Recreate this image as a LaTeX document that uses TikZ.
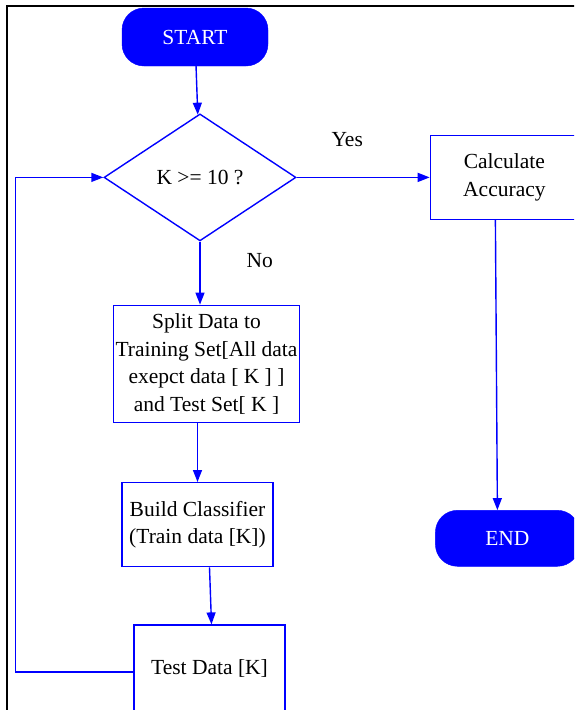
\documentclass[tikz,border=0pt]{standalone}
\usepackage{fontspec}
\setmainfont{Liberation Serif}
\usetikzlibrary{positioning}
\usetikzlibrary{arrows.meta}
\usetikzlibrary{shapes.geometric}

\begin{document}
\begin{tikzpicture}[
        x=1pt, y=-1pt,
        font=\fontsize{21.5}{27.5}\selectfont,
        terminal/.style={draw=blue, fill=blue, text=white, rectangle, rounded corners=22pt, minimum width=146pt, minimum height=58pt},
        box/.style={draw=blue, line width=1.4pt, rectangle, align=center, inner sep=2pt},
        decision/.style={draw=blue, line width=1.4pt, diamond, inner sep=0pt, minimum width=192pt, minimum height=127pt},
        lbl/.style={inner sep=0pt},
        arrow/.style={draw=blue, line width=1.4pt, -{Triangle[length=12pt, width=9pt]}},
    ]
        \useasboundingbox (0,0) rectangle (574,710);
        \clip (0,0) rectangle (574,710);
        \draw[line width=2pt] (7,712) -- (7,6) -- (576,6);

        \node[terminal] (start) at (195,37) {START};
        \node[decision, below = 47pt of start, xshift=5pt] (decide) {K >= 10 ?};
        \node[box, right = 133pt of decide, minimum width=148pt, minimum height=84pt] (calc) {Calculate\\Accuracy};
        \node[terminal, below = 290pt of calc, xshift=3pt, minimum width=144pt, minimum height=56pt] (end) {END};
        \node[box, below = 63pt of decide, xshift=6.5pt, minimum width=183pt, minimum height=117pt] (split) {Split Data to\\Training Set[All data\\exepct data [ K ] ]\\and Test Set[ K ]};
        \node[box, below = 59pt of split, xshift=-9pt, minimum width=151pt, minimum height=84pt] (build) {Build Classifier\\(Train data [K])};
        \node[box, below = 57pt of build, xshift=12pt, minimum width=151pt, minimum height=86pt] (test) {Test Data [K]};

        \draw[arrow] (start) -- (decide);
        \draw[arrow] (decide.east) -- node[lbl, pos=0.38, above=30pt] (yes) {Yes} (calc.west);
        \draw[arrow] (decide.south) -- node[lbl, pos=0.3, right=46pt] (no) {No} (decide.south |- split.north);
        \draw[arrow] ([xshift=-9pt]calc.south) -- ([xshift=-10pt]end.north);
        \draw[arrow] (split.south -| build) -- (build.north);
        \draw[arrow] ([xshift=12pt]build.south) -- ([xshift=2pt]test.north);
        \draw[arrow] ([yshift=-4pt]test.west) -- ++(-118pt,0) |- (decide.west);
    \end{tikzpicture}
\end{document}
